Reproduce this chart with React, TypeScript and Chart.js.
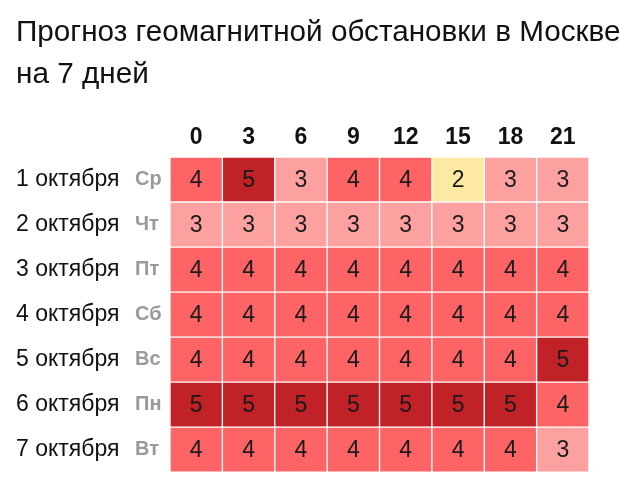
import { useEffect, useRef } from 'react';
import { Chart, registerables } from 'chart.js';

Chart.register(...registerables);

const titleLines = ['Прогноз геомагнитной обстановки в Москве', 'на 7 дней'];
const hours = ['0', '3', '6', '9', '12', '15', '18', '21'];
const dates = ['1 октября', '2 октября', '3 октября', '4 октября', '5 октября', '6 октября', '7 октября'];
const weekdays = ['Ср', 'Чт', 'Пт', 'Сб', 'Вс', 'Пн', 'Вт'];

const kpOct1 = [4, 5, 3, 4, 4, 2, 3, 3];
const kpOct2 = [3, 3, 3, 3, 3, 3, 3, 3];
const kpOct3 = [4, 4, 4, 4, 4, 4, 4, 4];
const kpOct4 = [4, 4, 4, 4, 4, 4, 4, 4];
const kpOct5 = [4, 4, 4, 4, 4, 4, 4, 5];
const kpOct6 = [5, 5, 5, 5, 5, 5, 5, 4];
const kpOct7 = [4, 4, 4, 4, 4, 4, 4, 3];
const kpRows = [kpOct1, kpOct2, kpOct3, kpOct4, kpOct5, kpOct6, kpOct7];

const levelColors: Record<number, string> = {
  2: '#fde9a1',
  3: '#fda0a0',
  4: '#fe6465',
  5: '#c12228',
};

const FONT = '"Liberation Sans", Arial, Helvetica, sans-serif';

export default function App() {
  const ref = useRef<HTMLCanvasElement | null>(null);

  useEffect(() => {
    document.body.style.margin = '0';
    const canvas = ref.current;
    if (!canvas) return;

    const cellLabels = {
      id: 'cellLabels',
      afterDatasetsDraw(chart: any) {
        const ctx = chart.ctx;
        ctx.save();
        ctx.font = `23px ${FONT}`;
        ctx.fillStyle = '#1a1a1a';
        ctx.textAlign = 'center';
        ctx.textBaseline = 'middle';
        chart.data.datasets.forEach((_ds: any, col: number) => {
          const meta = chart.getDatasetMeta(col);
          meta.data.forEach((el: any, row: number) => {
            const p = el.getProps(['x', 'y', 'base'], true);
            ctx.fillText(String(kpRows[row][col]), (p.x + p.base) / 2, p.y + 1);
          });
        });
        ctx.restore();
      },
    };

    const chart = new Chart(canvas, {
      type: 'bar',
      data: {
        labels: dates,
        datasets: hours.map((h, col) => ({
          label: h,
          data: dates.map(() => 1),
          backgroundColor: kpRows.map((r) => levelColors[r[col]]),
          borderColor: '#ffffff',
          borderWidth: 1,
          borderSkipped: false,
          categoryPercentage: 1,
          barPercentage: 1,
        })),
      },
      options: {
        indexAxis: 'y',
        animation: false,
        responsive: false,
        events: [],
        layout: { padding: { left: 16, right: 0, bottom: 13, top: 0 } },
        plugins: {
          legend: { display: false },
          tooltip: { enabled: false },
          title: {
            display: true,
            text: titleLines,
            align: 'start',
            color: '#111111',
            font: { family: FONT, size: 29.7, weight: 'normal', lineHeight: 1.414 },
            padding: { top: 12, bottom: 0 },
          },
        },
        scales: {
          x: {
            type: 'linear',
            position: 'top',
            stacked: true,
            min: 0,
            max: hours.length,
            grid: { display: false, drawTicks: false },
            border: { display: false },
            afterBuildTicks: (scale: any) => {
              scale.ticks = hours.map((_h, i) => ({ value: i + 0.5 }));
            },
            afterFit: (scale: any) => {
              scale.height = 61;
            },
            ticks: {
              padding: 6,
              color: '#111111',
              font: { family: FONT, size: 23, weight: 'bold' },
              callback: (_v: any, i: number) => hours[i],
            },
          },
          y: {
            type: 'category',
            position: 'left',
            stacked: true,
            offset: true,
            weight: 2,
            grid: { display: false, drawTicks: false },
            border: { display: false },
            afterFit: (scale: any) => {
              scale.width = 119;
            },
            ticks: {
              crossAlign: 'far',
              padding: 0,
              color: '#111111',
              font: { family: FONT, size: 23 },
            },
          },
          yDay: {
            type: 'category',
            axis: 'y',
            position: 'left',
            labels: weekdays,
            offset: true,
            weight: 1,
            grid: { display: false, drawTicks: false },
            border: { display: false },
            afterFit: (scale: any) => {
              scale.width = 35;
            },
            ticks: {
              crossAlign: 'far',
              padding: 0,
              color: '#9a9a9a',
              font: { family: FONT, size: 20, weight: 'bold' },
            },
          },
          yRightSpace: {
            type: 'category',
            axis: 'y',
            position: 'right',
            labels: weekdays,
            offset: true,
            grid: { display: false, drawTicks: false },
            border: { display: false },
            ticks: { display: false },
            afterFit: (scale: any) => {
              scale.width = 51;
            },
          },
        },
      } as any,
      plugins: [cellLabels],
    });

    return () => chart.destroy();
  }, []);

  return <canvas ref={ref} width={640} height={486} style={{ display: 'block' }} />;
}
